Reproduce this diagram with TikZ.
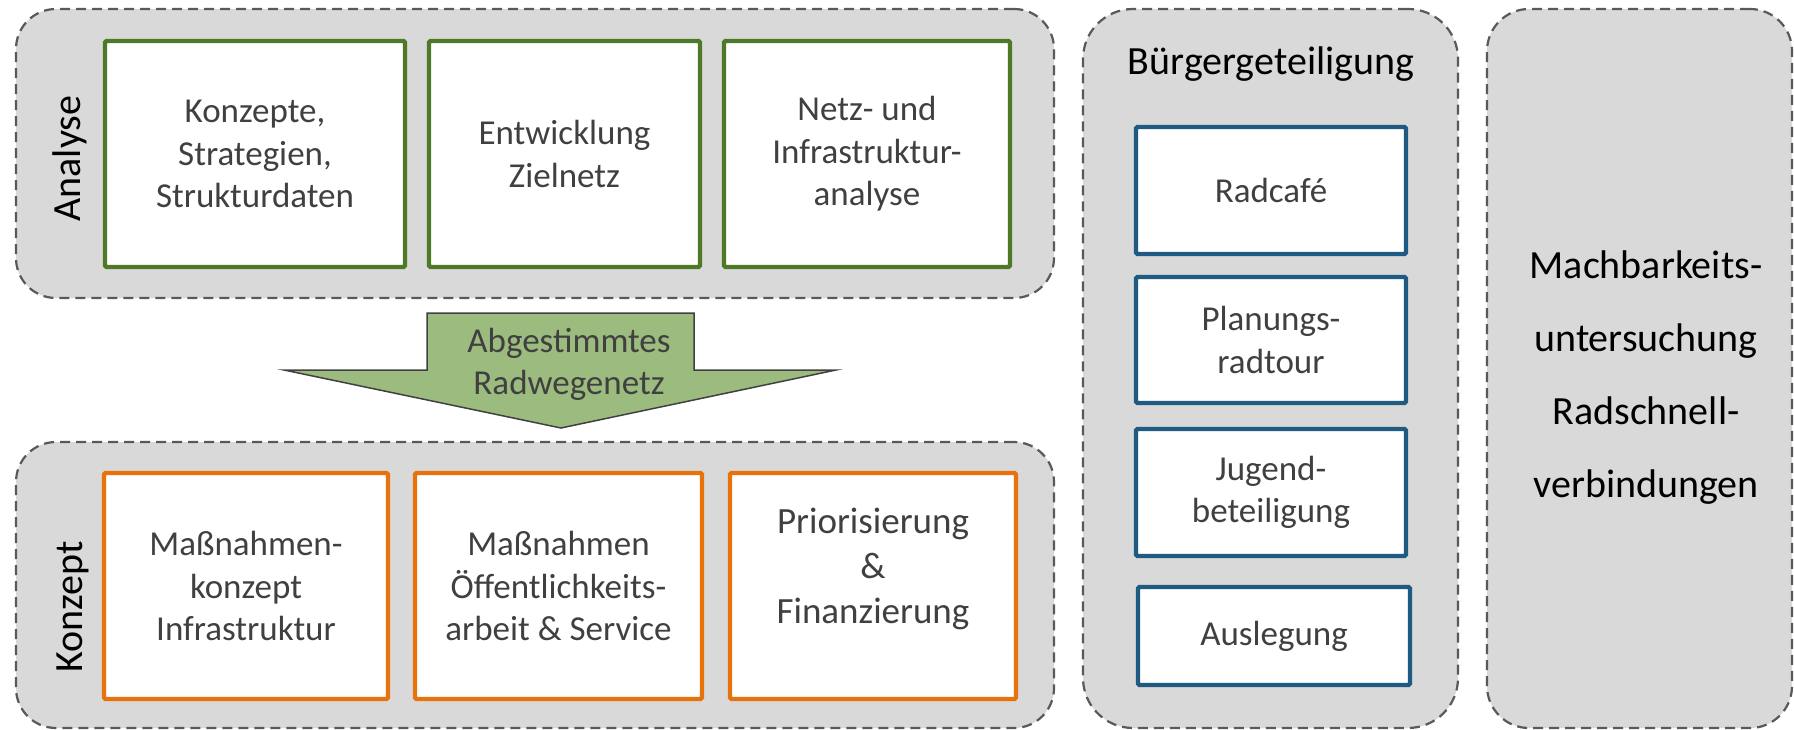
\documentclass[tikz,border=0pt]{standalone}
\usepackage{fontspec}
\setmainfont{Carlito}
\definecolor{grpfill}{HTML}{D9D9D9}
\definecolor{grpline}{HTML}{595959}
\definecolor{greenb}{HTML}{4E7A27}
\definecolor{orangeb}{HTML}{E8720C}
\definecolor{blueb}{HTML}{1F5A82}
\definecolor{txtgray}{HTML}{404040}
\definecolor{arrowfill}{HTML}{9CBB7E}
\newcommand\myboxfont{\fontsize{35}{42.5}\selectfont}
\newcommand\mybigfont{\fontsize{40}{48}\selectfont}
\begin{document}
\begin{tikzpicture}[x=1pt,y=-1pt,
  group/.style={draw=grpline, fill=grpfill, dash pattern=on 10pt off 6pt, line width=2.2pt, rectangle, inner sep=0pt},
  basebox/.style={fill=white, line width=4.3pt, rounded corners=1.5pt, align=center, text=txtgray, font=\myboxfont, inner sep=0pt, rectangle},
  gbox/.style={basebox, draw=greenb, minimum height=226pt},
  obox/.style={basebox, draw=orangeb, minimum height=226pt},
  bbox/.style={basebox, draw=blueb},
  biglabel/.style={font=\mybigfont, text=black, inner sep=0pt}
]
\useasboundingbox (0,0) rectangle (1794,730);
% groups
\node[group, rounded corners=40pt, minimum width=1038pt, minimum height=289pt] (analyse) at (535,153.5) {};
\node[group, rounded corners=40pt, minimum width=1038pt, minimum height=286pt] (konzept) at (535,585) {};
\node[group, rounded corners=50pt, minimum width=375pt, minimum height=719pt] (buerger) at (1270.5,368.5) {};
\node[group, rounded corners=42pt, minimum width=305pt, minimum height=719pt] (mach) at (1639.5,368.5) {};
% group labels
\node[biglabel, rotate=90, anchor=base] (lanalyse) at (80,158.5) {Analyse};
\node[biglabel, rotate=90, anchor=base] (lkonzept) at (82,607) {Konzept};
\node[biglabel, anchor=base] (lbuerger) at (1271,75) {Bürgergeteiligung};
\node[biglabel, align=center, font=\fontsize{40}{73}\selectfont] (lmach) at (1646,378)
  {Machbarkeits-\\untersuchung\\Radschnell-\\verbindungen};
% analyse boxes
\node[gbox, minimum width=300pt] (a1) at (255,154) {Konzepte,\\Strategien,\\Strukturdaten};
\node[gbox, minimum width=271pt] (a2) at (564.5,154) {Entwicklung\\Zielnetz};
\node[gbox, minimum width=286pt] (a3) at (867,154) {Netz- und\\Infrastruktur-\\analyse};
% konzept boxes
\node[obox, minimum width=284pt] (k1) at (246,586) {Maßnahmen-\\konzept\\Infrastruktur};
\node[obox, minimum width=287pt] (k2) at (558.5,586) {Maßnahmen\\Öffentlichkeits-\\arbeit \& Service};
\node[obox, minimum width=286pt] (k3) at (873,586) {};
\node[align=center, text=txtgray, inner sep=0pt, font=\fontsize{37}{45}\selectfont] (k3t) at (873,569) {Priorisierung\\\&\\Finanzierung};
% buerger boxes
\node[bbox, minimum width=270pt, minimum height=127pt] (b1) at (1271,190.5) {Radcafé};
\node[bbox, minimum width=270pt, minimum height=126pt] (b2) at (1271,340) {Planungs-\\radtour};
\node[bbox, minimum width=270pt, minimum height=127pt] (b3) at (1271,492.5) {Jugend-\\beteiligung};
\node[bbox, minimum width=272pt, minimum height=98pt] (b4) at (1274,636) {Auslegung};
% arrow
\draw[fill=arrowfill, draw=txtgray, line width=1.5pt, line join=miter]
  (427,313) -- (694,313) -- (694,370) -- (836,370) -- (561,428) -- (284,370) -- (427,370) -- cycle;
\node[align=center, text=txtgray, inner sep=0pt, font=\myboxfont] (arrtxt) at (569,364.5) {Abgestimmtes\\Radwegenetz};
\end{tikzpicture}
\end{document}
